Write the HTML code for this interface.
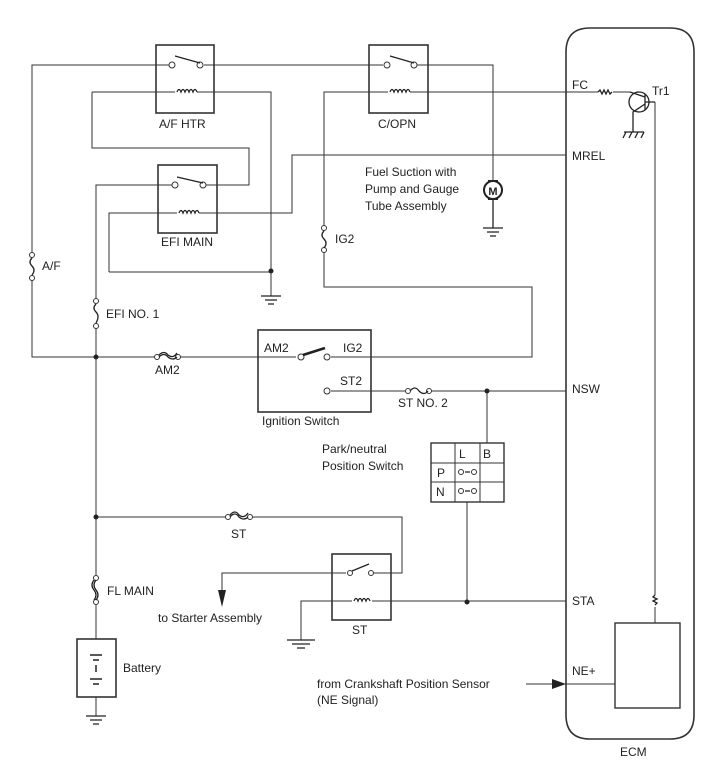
<!DOCTYPE html>
<html><head><meta charset="utf-8"><style>
html,body{margin:0;padding:0;background:#fff}
svg{display:block}
text{font-family:"Liberation Sans",Arial,sans-serif;font-size:12px;fill:#222}
</style></head><body>
<svg width="713" height="782" viewBox="0 0 713 782" xmlns="http://www.w3.org/2000/svg">
<g stroke="#333" stroke-width="1" fill="none">
<path d="M590 28 H670 Q694 28 694 52 V715 Q694 739 670 739 H590 Q566 739 566 715 V52 Q566 28 590 28 Z" stroke-width="1.6"/>
<rect x="615" y="623" width="65" height="85" stroke-width="1.4"/>
<rect x="156" y="45" width="58" height="68" stroke-width="1.6"/>
<rect x="158" y="165" width="59" height="68" stroke-width="1.6"/>
<rect x="369" y="45" width="59" height="68" stroke-width="1.6"/>
<rect x="258" y="330" width="113" height="82" stroke-width="1.6"/>
<rect x="332" y="554" width="59" height="66" stroke-width="1.6"/>
<rect x="77" y="639" width="39" height="58" stroke-width="1.6"/>
<rect x="431" y="443" width="73" height="59" stroke-width="1.4"/>
<path d="M455 443V502 M480 443V502 M431 463H504 M431 482H504"/>
<path d="M32 252 V65 H170 M204 65 H383 M417 65 H493 V181"/>
<path d="M92 92 H175 M197 92 H271 V296 M92 92 V148 H249 V185 H206"/>
<path d="M96 298 V185 H173 M109 272 V213 H177 M199 213 H292 V155 H566 M109 272 H271"/>
<path d="M324 225 V92 H388 M410 92 H598 M613 92 H630"/>
<path d="M324 252 V287 H532 V357 H331"/>
<path d="M32 280 V357 H155 M180 357 H258 M296 357 H258"/>
<path d="M96 328 V575 M96 605 V639 M96 697 V716"/>
<path d="M331 391 H405 M432 391 H566 M487 391 V443 M467 502 V601"/>
<path d="M96 517 H226 M252 517 H402 V573 H373 M346 573 H222 V592"/>
<path d="M301 640 V601 H352 M372 601 H566"/>
<path d="M655 102 V595 M655 607 V623"/>
<path d="M526 684 H615"/>
</g>
<g fill="#222">
<polygon points="218,590 226,590 222,607"/>
<polygon points="552,679 566,684 552,689"/>
<circle cx="96" cy="357" r="2.5"/><circle cx="271" cy="271" r="2.5"/><circle cx="487" cy="391" r="2.5"/>
<circle cx="96" cy="517" r="2.5"/><circle cx="467" cy="602" r="2.5"/>
</g>
<g stroke="#333" stroke-width="1" fill="#fff">
<circle cx="172" cy="65" r="3"/><circle cx="200" cy="65" r="3"/>
<circle cx="175" cy="185" r="3"/><circle cx="203" cy="185" r="3"/>
<circle cx="387" cy="65" r="3"/><circle cx="414" cy="65" r="3"/>
<circle cx="301" cy="357" r="3"/><circle cx="327" cy="357" r="3"/><circle cx="327" cy="391" r="3"/>
<circle cx="350" cy="573" r="2.5"/><circle cx="371" cy="573" r="2.5"/>
<circle cx="461" cy="472" r="2.5"/><circle cx="474" cy="472" r="2.5"/>
<circle cx="461" cy="491" r="2.5"/><circle cx="474" cy="491" r="2.5"/>
<circle cx="32" cy="255" r="2.5"/><circle cx="32" cy="278" r="2.5"/>
<circle cx="96" cy="301" r="2.5"/><circle cx="96" cy="326" r="2.5"/>
<circle cx="324" cy="228" r="2.5"/><circle cx="324" cy="250" r="2.5"/>
<circle cx="157" cy="357" r="2.5"/><circle cx="178" cy="357" r="2.5"/>
<circle cx="408" cy="391" r="2.5"/><circle cx="429" cy="391" r="2.5"/>
<circle cx="228" cy="517" r="2.5"/><circle cx="250" cy="517" r="2.5"/>
<circle cx="96" cy="578" r="2.5"/><circle cx="96" cy="602" r="2.5"/>
</g>
<g stroke="#222" stroke-width="1.3" fill="none">
<path d="M175 56 L200 63 M177 177 L203 183 M390 56 L414 63"/>
<path d="M303 355 L325 348" stroke-width="2.5"/>
<path d="M352 571 L369 564"/>
<path d="M465 472H470 M465 491H470"/>
<path d="M177 92 q2 -5 4 0 q2 -5 4 0 q2 -5 4 0 q2 -5 4 0 q2 -5 4 0"/>
<path d="M179 213 q2 -5 4 0 q2 -5 4 0 q2 -5 4 0 q2 -5 4 0 q2 -5 4 0"/>
<path d="M390 92 q2 -5 4 0 q2 -5 4 0 q2 -5 4 0 q2 -5 4 0 q2 -5 4 0"/>
<path d="M354 601 q2 -5 4 0 q2 -5 4 0 q2 -5 4 0 q2 -5 4 0"/>
<path d="M32 258 q-4 4 0 8 q4 4 0 9"/>
<path d="M96 304 q-4 4 0 8 q4 4 0 11"/>
<path d="M324 231 q-4 4 0 8 q4 4 0 9"/>
<path d="M159 357 q5 -5 9 0 q5 4 9 0"/>
<path d="M159 355 q5 -5 9 0 q5 4 9 -2"/>
<path d="M410 391 q5 -6 9 0 q5 5 9 0"/>
<path d="M230 517 q5 -6 9 0 q5 4 9 0 M230 515 q5 -6 9 0 q5 4 9 -2"/>
<path d="M96 580 q-4 5 0 10 q4 5 0 10 M94 580 q-4 5 0 10 q4 5 0 10"/>
<path d="M598 92 l2 -2 l2 4 l2 -4 l2 4 l2 -4 l2 4 l2 -2"/>
<path d="M655 595 l-2 2 l4 2 l-4 2 l4 2 l-2 2"/>
<path d="M261 296 H281 M265 300 H277 M268 304 H274"/>
<path d="M483 228 H503 M487 232 H499 M490 236 H496"/>
<path d="M287 640 H315 M292 644 H310 M297 648 H305"/>
<path d="M86 716 H106 M90 720 H102 M93 724 H99"/>
<path d="M624 132 H644 M626 132 l-3 6 M632 132 l-3 6 M638 132 l-3 6 M644 132 l-3 6"/>
<circle cx="639" cy="102" r="10"/>
<path d="M630 92 L645 97 M645 94 V110 M645 104 L633 112 V132 M645 102 H655"/>
<path d="M90 655 H102 M93 660 H99 M96 665 V672 M90 679 H102 M93 684 H99" stroke-width="1.5"/>
<circle cx="493" cy="190" r="9" stroke-width="2"/>
<path d="M488 181 H498 M488 199 H498" stroke-width="2"/>
<path d="M493 199 V228"/>
</g>
<text x="493" y="195" text-anchor="middle" style="font-size:11px;font-weight:bold">M</text>
<text x="159" y="128">A/F HTR</text>
<text x="161" y="246">EFI MAIN</text>
<text x="378" y="128">C/OPN</text>
<text x="42" y="270">A/F</text>
<text x="106" y="318">EFI NO. 1</text>
<text x="335" y="243">IG2</text>
<text x="155" y="374">AM2</text>
<text x="264" y="352">AM2</text>
<text x="343" y="352">IG2</text>
<text x="340" y="385">ST2</text>
<text x="398" y="407">ST NO. 2</text>
<text x="262" y="425">Ignition Switch</text>
<text x="365" y="176">Fuel Suction with</text>
<text x="365" y="193">Pump and Gauge</text>
<text x="365" y="210">Tube Assembly</text>
<text x="572" y="89">FC</text>
<text x="652" y="95">Tr1</text>
<text x="572" y="160">MREL</text>
<text x="572" y="393">NSW</text>
<text x="572" y="605">STA</text>
<text x="572" y="675">NE+</text>
<text x="620" y="756">ECM</text>
<text x="322" y="453">Park/neutral</text>
<text x="322" y="470">Position  Switch</text>
<text x="459" y="458">L</text><text x="483" y="458">B</text>
<text x="437" y="477">P</text><text x="436" y="496">N</text>
<text x="231" y="538">ST</text>
<text x="107" y="595">FL MAIN</text>
<text x="158" y="622">to Starter Assembly</text>
<text x="352" y="634">ST</text>
<text x="123" y="672">Battery</text>
<text x="317" y="688">from Crankshaft Position Sensor</text>
<text x="317" y="704">(NE Signal)</text>
</svg>
</body></html>
